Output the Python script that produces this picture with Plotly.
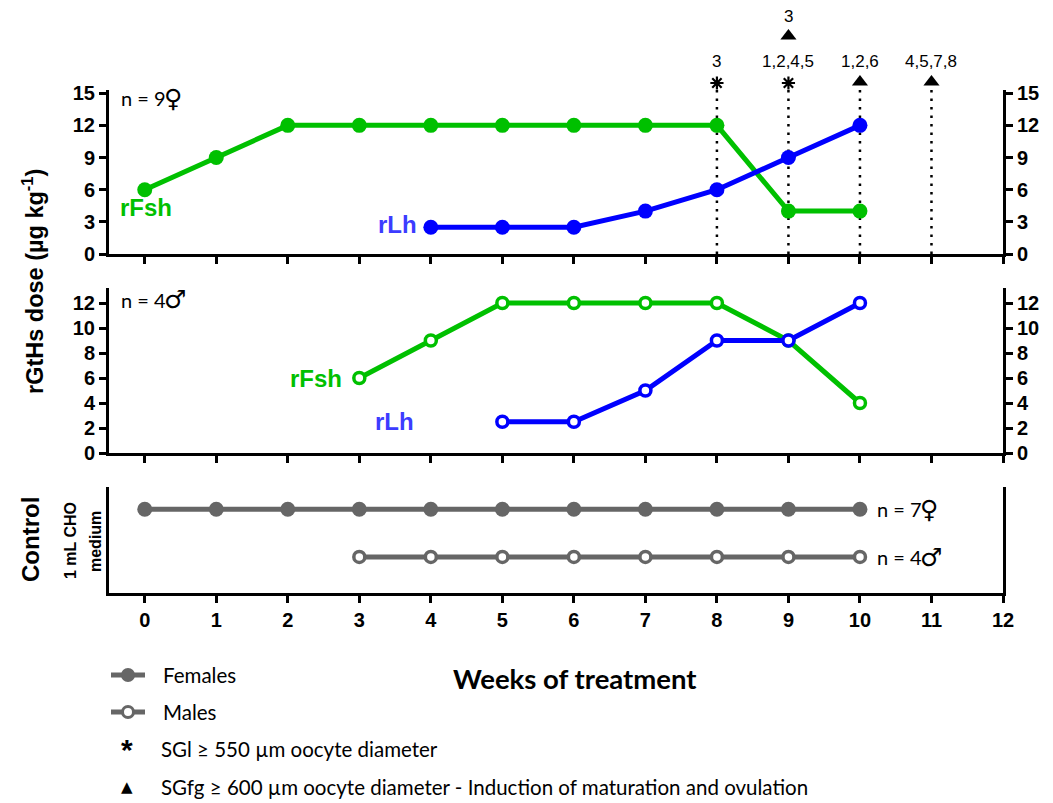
import plotly.graph_objects as go

# ---------------- data ----------------
weeks_axis = list(range(0, 13))
fem_fsh_weeks = [0, 1, 2, 3, 4, 5, 6, 7, 8, 9, 10]
fem_fsh = [6, 9, 12, 12, 12, 12, 12, 12, 12, 4, 4]
fem_lh_weeks = [4, 5, 6, 7, 8, 9, 10]
fem_lh = [2.5, 2.5, 2.5, 4, 6, 9, 12]
male_fsh_weeks = [3, 4, 5, 6, 7, 8, 9, 10]
male_fsh = [6, 9, 12, 12, 12, 12, 9, 4]
male_lh_weeks = [5, 6, 7, 8, 9, 10]
male_lh = [2.5, 2.5, 5, 9, 9, 12]
ctrl_fem_weeks = [0, 1, 2, 3, 4, 5, 6, 7, 8, 9, 10]
ctrl_male_weeks = [3, 4, 5, 6, 7, 8, 9, 10]
event_weeks = [8, 9, 10, 11]
sgl_weeks = [8, 9]
sgl_labels = ["3", "1,2,4,5"]
sgfg_weeks = [10, 11]
sgfg_labels = ["1,2,6", "4,5,7,8"]
sgfg_top_week = 9
sgfg_top_label = "3"
top_ticks = [0, 3, 6, 9, 12, 15]
mid_ticks = [0, 2, 4, 6, 8, 10, 12]

# ---------------- style ----------------
W, H = 1053, 803
GREEN = "rgb(0,192,0)"
BLUE = "rgb(0,0,255)"
LBLUE = "rgb(60,60,255)"
GRAY = "rgb(102,102,102)"
BOLD_FONT = "Liberation Sans"
TXT_FONT = "Lato"
SYM_FONT = "DejaVu Sans"


def px(x):
    return x / W


def py(y):
    return 1 - y / H


XDOM = [px(109), px(1003)]
XR = [-0.5, 12]
TOP_DOM = [py(254), py(90)]
TOP_R = [0, 15.3]
# hidden axis sharing the top panel's scale, extended up to the page top
TOP_SCALE = (254 - 90) / TOP_R[1]
EXT_DOM = [py(254), 1.0]
EXT_R = [0, 254 / TOP_SCALE]
MID_DOM = [py(453), py(288)]
MID_R = [0, 13.2]
BOT_DOM = [py(593), py(487)]
BOT_R = [0, 1]
CTRL_F_LEVEL = 0.79
CTRL_M_LEVEL = 0.34


def lvl(ypix):
    """vertical level (in top-panel units) of a page pixel row"""
    return (254 - ypix) / TOP_SCALE


tickfont = dict(family=BOLD_FONT, size=20, color="black", weight="bold")

fig = go.Figure()


def line_trace(x, y, color, filled, xa, ya):
    marker = dict(size=15, color=color) if filled else dict(
        size=11, color="white", line=dict(color=color, width=3.5))
    return go.Scatter(x=x, y=y, mode="lines+markers", xaxis=xa, yaxis=ya,
                      line=dict(color=color, width=5), marker=marker,
                      showlegend=False, hoverinfo="skip", cliponaxis=False)


# dotted event lines (top panel)
for w in event_weeks:
    fig.add_trace(go.Scatter(x=[w, w], y=[0, TOP_R[1]], mode="lines", xaxis="x", yaxis="y",
                             line=dict(color="black", width=2.5, dash="2.5px,6px"),
                             showlegend=False, hoverinfo="skip"))

# top panel (females)
fig.add_trace(line_trace(fem_fsh_weeks, fem_fsh, GREEN, True, "x", "y"))
fig.add_trace(line_trace(fem_lh_weeks, fem_lh, BLUE, True, "x", "y"))
# middle panel (males)
fig.add_trace(line_trace(male_fsh_weeks, male_fsh, GREEN, False, "x2", "y2"))
fig.add_trace(line_trace(male_lh_weeks, male_lh, BLUE, False, "x2", "y2"))
# control panel
fig.add_trace(line_trace(ctrl_fem_weeks, [CTRL_F_LEVEL] * len(ctrl_fem_weeks), GRAY, True, "x3", "y3"))
fig.add_trace(line_trace(ctrl_male_weeks, [CTRL_M_LEVEL] * len(ctrl_male_weeks), GRAY, False, "x3", "y3"))
# dummy traces for right axes
fig.add_trace(go.Scatter(x=[None], y=[None], xaxis="x", yaxis="y4", showlegend=False))
fig.add_trace(go.Scatter(x=[None], y=[None], xaxis="x2", yaxis="y5", showlegend=False))

# event symbols above the dotted lines
fig.add_trace(go.Scatter(x=sgl_weeks, y=[lvl(83)] * len(sgl_weeks), mode="markers",
                         xaxis="x", yaxis="y6", hoverinfo="skip", showlegend=False,
                         marker=dict(symbol="asterisk-open", size=11, color="black",
                                     line=dict(color="black", width=2.2))))
fig.add_trace(go.Scatter(x=sgfg_weeks + [sgfg_top_week],
                         y=[lvl(82)] * len(sgfg_weeks) + [lvl(36)], mode="markers",
                         xaxis="x", yaxis="y6", hoverinfo="skip", showlegend=False,
                         marker=dict(symbol="triangle-up", size=14, color="black")))

axis_common = dict(showline=True, linewidth=3, linecolor="black", showgrid=False,
                   zeroline=False, ticks="outside", ticklen=7, tickwidth=2.5,
                   tickcolor="black", fixedrange=True, automargin=False)

fig.update_layout(
    width=W, height=H, margin=dict(l=0, r=0, t=0, b=0, pad=0, autoexpand=False),
    paper_bgcolor="white", plot_bgcolor="rgba(0,0,0,0)", showlegend=False,
    xaxis=dict(domain=XDOM, range=XR, anchor="y", tickvals=weeks_axis,
               showticklabels=False, **axis_common),
    yaxis=dict(domain=TOP_DOM, range=TOP_R, anchor="x", tickvals=top_ticks,
               tickfont=tickfont, **axis_common),
    yaxis4=dict(range=TOP_R, overlaying="y", side="right", anchor="x",
                tickvals=top_ticks, tickfont=tickfont, **axis_common),
    yaxis6=dict(domain=EXT_DOM, range=EXT_R, anchor="x", visible=False,
                fixedrange=True, automargin=False),
    xaxis2=dict(domain=XDOM, range=XR, anchor="y2", tickvals=weeks_axis,
                showticklabels=False, **axis_common),
    yaxis2=dict(domain=MID_DOM, range=MID_R, anchor="x2", tickvals=mid_ticks,
                tickfont=tickfont, **axis_common),
    yaxis5=dict(range=MID_R, overlaying="y2", side="right", anchor="x2",
                tickvals=mid_ticks, tickfont=tickfont, **axis_common),
    xaxis3=dict(domain=XDOM, range=XR, anchor="y3", tickvals=weeks_axis,
                tickfont=tickfont, **axis_common),
    yaxis3=dict(domain=BOT_DOM, range=BOT_R, anchor="x3", showline=True, linewidth=3,
                linecolor="black", mirror=True, showgrid=False, zeroline=False,
                showticklabels=False, ticks="", fixedrange=True, automargin=False),
)

ann = []


def add_text(text, x, y, size, color="black", family=TXT_FONT, bold=False,
             xanchor="center", angle=0, xref="paper", yref="paper"):
    ann.append(dict(text=text, x=x, y=y, xref=xref, yref=yref, showarrow=False,
                    xanchor=xanchor, yanchor="middle", textangle=angle,
                    font=dict(family=family, size=size, color=color,
                              weight="bold" if bold else "normal")))


for label, sym, x0, y0 in [("n = 9", "♀", 119, 98), ("n = 4", "♂", 119, 300),
                           ("n = 7", "♀", 875, 509), ("n = 4", "♂", 875, 557)]:
    add_text(label, px(x0), py(y0), 20, xanchor="left")
    add_text(sym, px(x0 + 43), py(y0), 25, "black", SYM_FONT, xanchor="left")

add_text("rFsh", px(146), py(208), 24, GREEN, BOLD_FONT, True)
add_text("rLh", px(419), py(224), 24, LBLUE, BOLD_FONT, True, xanchor="right")
add_text("rFsh", px(344), py(378), 24, GREEN, BOLD_FONT, True, xanchor="right")
add_text("rLh", px(416), py(421), 24, LBLUE, BOLD_FONT, True, xanchor="right")

add_text("rGtHs dose (µg kg<sup>-1</sup>)", px(33), py(282), 23.5, "black", BOLD_FONT, True, angle=-90)
add_text("Control", px(30), py(540), 24, "black", BOLD_FONT, True, angle=-90)
add_text("1 mL CHO", px(70), py(541), 16, "black", BOLD_FONT, True, angle=-90)
add_text("medium", px(95), py(542), 16, "black", BOLD_FONT, True, angle=-90)

add_text("Weeks of treatment", px(575), py(678), 27.5, "black", TXT_FONT, True)

# event labels above the top panel (x in weeks)
for w, lab in zip(sgl_weeks, sgl_labels):
    add_text(lab, w, py(62), 17, "black", BOLD_FONT, False, xref="x")
for w, lab in zip(sgfg_weeks, sgfg_labels):
    add_text(lab, w, py(62), 17, "black", BOLD_FONT, False, xref="x")
add_text(sgfg_top_label, sgfg_top_week, py(17), 17, "black", BOLD_FONT, False, xref="x")

# legend
add_text("Females", px(161), py(675), 20.5, xanchor="left")
add_text("Males", px(161), py(712), 20.5, xanchor="left")
add_text("SGl ≥ 550 µm oocyte diameter", px(159), py(749), 20.5, xanchor="left")
add_text("SGfg ≥ 600 µm oocyte diameter - Induction of maturation and ovulation",
         px(159), py(787), 20.5, xanchor="left")
add_text("*", px(127), py(749), 30, "black", BOLD_FONT, True)
add_text("▲", px(127), py(787), 15, "black", SYM_FONT, False)

fig.update_layout(annotations=ann)

shapes = []
for yy, filled in [(675, True), (712, False)]:
    shapes.append(dict(type="line", xref="paper", yref="paper", x0=px(111), x1=px(145),
                       y0=py(yy), y1=py(yy), line=dict(color=GRAY, width=5)))
    r = 7 if filled else 5.5
    shapes.append(dict(type="circle", xref="paper", yref="paper",
                       x0=px(128 - r), x1=px(128 + r), y0=py(yy + r), y1=py(yy - r),
                       fillcolor=GRAY if filled else "white",
                       line=dict(color=GRAY, width=0 if filled else 3)))
fig.update_layout(shapes=shapes)

fig.write_html("out.html", config={"displayModeBar": False},
               post_script="document.body.style.margin='0px';")
